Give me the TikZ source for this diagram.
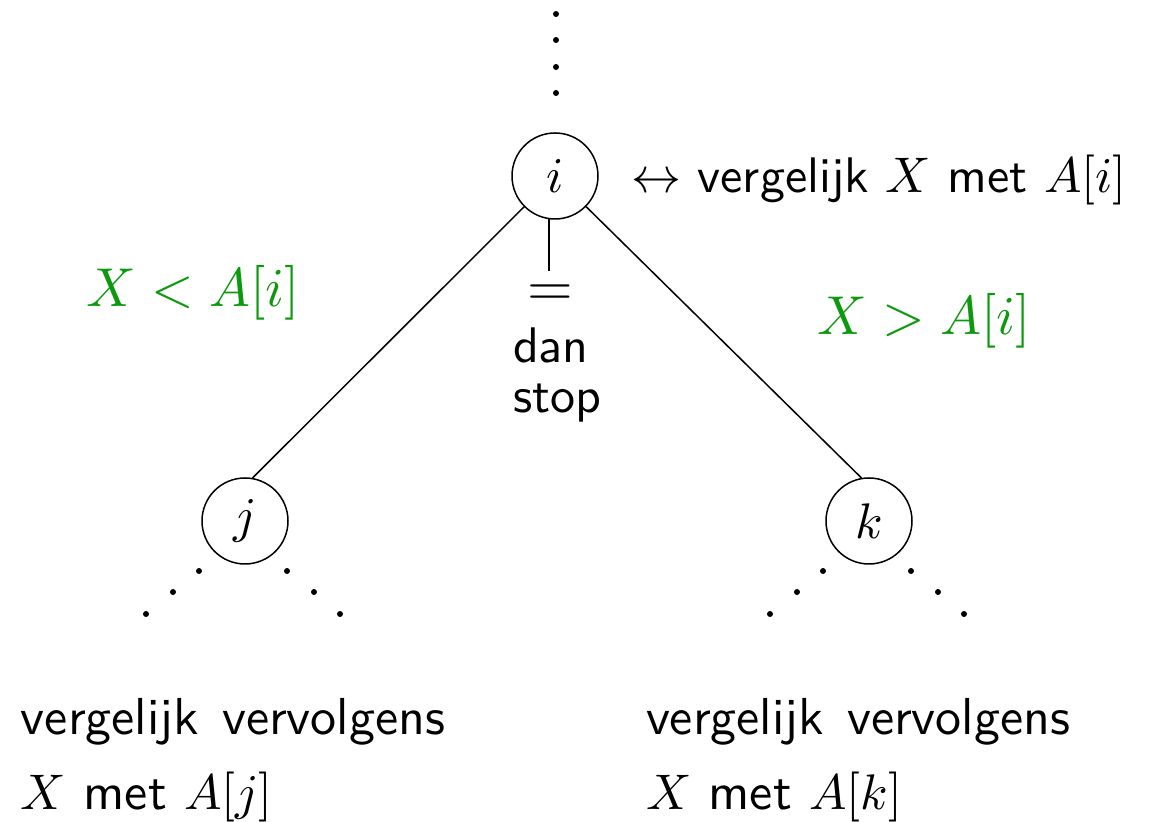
\documentclass[tikz,border=0pt]{standalone}
\usepackage{tikz}
\usetikzlibrary{positioning,calc}
\definecolor{cmpgreen}{rgb}{0.05,0.6,0.05}
\tikzset{
  knoop/.style={draw, circle, minimum size=17.2pt, inner sep=0pt, line width=0.3pt},
  tak/.style={line width=0.3pt},
  stip/.style={fill=black},
  tekst/.style={font=\sffamily, inner sep=0pt, anchor=base west},
  ondertekst/.style={tekst, font=\sffamily\fontsize{10.4}{13}\selectfont},
  vgl/.style={text=cmpgreen, inner sep=0pt, anchor=base, font=\fontsize{11}{13}\selectfont},
}

\begin{document}
\begin{tikzpicture}[x=0.2pt, y=-0.2pt]
    \useasboundingbox (0,0) rectangle (1161,822);
    % puntjes boven de wortel
    \foreach \yy in {14,40,67,93}
      \fill[stip] (556,\yy) circle (0.6pt);
    \node[knoop] (i) at (555,176) {$i$};
    \node[knoop] (j) at (245,521) {$j$};
    \node[knoop] (k) at (869,521) {$k$};
    \node[tekst] (ilab) at (630,193) {$\leftrightarrow$ vergelijk $X$ met $A[i]$};
    \node[inner sep=0pt] (eq) at (550,296) {\fontsize{12.5}{14}\selectfont$\mathbf{=}$};
    \node[tekst, align=left] (stop) at (512,413) {dan\\[-1.9pt]stop};
    \draw[tak] (i.262) -- ++(0,52);
    \draw[tak] (i) -- (j.80);
    \draw[tak] (i) -- (k.100);
    \node[vgl] (kl) at (193,307) {$X<A[i]$};
    \node[vgl] (gr) at (924,335) {$X>A[i]$};
    % puntjes onder j en k
    \foreach \cx in {245,869} {
      \foreach \dx/\dy in {-46/571,-72/592,-99/614,42/571,69/592,95/614}
        \fill[stip] (\cx+\dx,\dy) circle (0.6pt);
    }
    \node[ondertekst] (jl1) at (20,735) {vergelijk\hspace{4.6pt}vervolgens};
    \node[ondertekst] (jl2) at (20,810) {$X$ met $A[j]$};
    \node[ondertekst] (kl1) at (645,735) {vergelijk\hspace{4.6pt}vervolgens};
    \node[ondertekst] (kl2) at (645,810) {$X$ met $A[k]$};
\end{tikzpicture}
\end{document}
